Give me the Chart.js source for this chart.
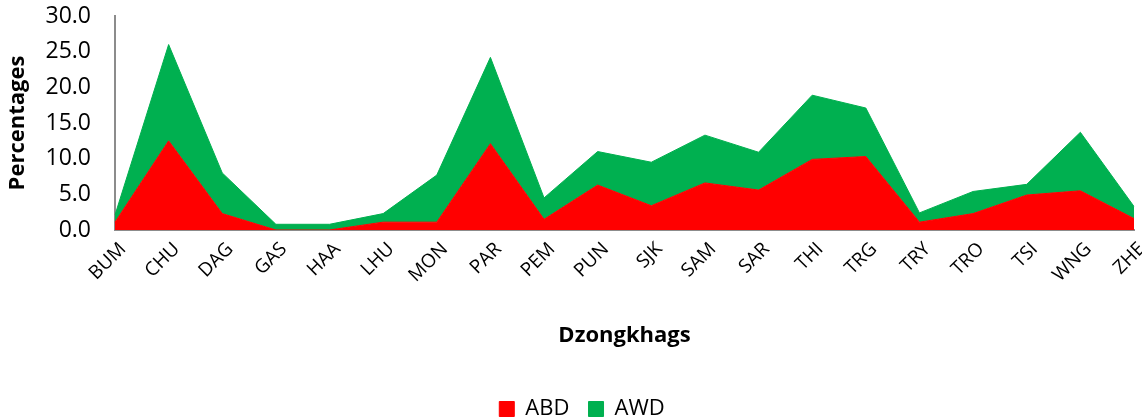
<!DOCTYPE html>
<html>
<head>
<meta charset="utf-8">
<script src="https://cdn.jsdelivr.net/npm/chart.js@4.4.0/dist/chart.umd.min.js"></script>
<style>
  html, body { margin: 0; padding: 0; background: #fff; }
  #wrap { width: 1142px; height: 420px; }
</style>
</head>
<body>
<div id="wrap"><canvas id="areaChart"></canvas></div>
<script>
// Dzongkhag codes
const dzongkhags = ['BUM', 'CHU', 'DAG', 'GAS', 'HAA', 'LHU', 'MON', 'PAR', 'PEM', 'PUN',
  'SJK', 'SAM', 'SAR', 'THI', 'TRG', 'TRY', 'TRO', 'TSI', 'WNG', 'ZHE'];

// Stacked series (percent)
const abdValues = [1.1, 12.5, 2.3, 0.0, 0.0, 1.1, 1.1, 12.1, 1.5, 6.3,
  3.4, 6.6, 5.6, 9.9, 10.3, 1.1, 2.3, 4.9, 5.5, 1.6];
const awdValues = [1.0, 13.5, 5.7, 0.8, 0.8, 1.2, 6.6, 12.1, 3.0, 4.7,
  6.1, 6.7, 5.3, 9.0, 6.8, 1.3, 3.1, 1.5, 8.2, 1.7];

const yTicks = [0, 5, 10, 15, 20, 25, 30];

const fontFamily = "'Open Sans', sans-serif";

// nudge the legend a bit right, like the original
const legendShift = {
  id: 'legendShift',
  afterLayout(chart) {
    chart.legend.left += 15;
    chart.legend.right += 15;
  }
};

const ctx = document.getElementById('areaChart');
new Chart(ctx, {
  type: 'line',
  data: {
    labels: dzongkhags,
    datasets: [
      {
        label: 'ABD',
        data: abdValues,
        borderColor: '#FF0000',
        backgroundColor: '#FF0000',
        borderWidth: 1,
        pointRadius: 0,
        tension: 0,
        fill: 'origin'
      },
      {
        label: 'AWD',
        data: awdValues,
        borderColor: '#00B050',
        backgroundColor: '#00B050',
        borderWidth: 1,
        pointRadius: 0,
        tension: 0,
        fill: '-1'
      }
    ]
  },
  plugins: [legendShift],
  options: {
    responsive: true,
    maintainAspectRatio: false,
    animation: false,
    layout: {
      padding: { top: 16, right: 8, left: 0, bottom: -10 }
    },
    scales: {
      x: {
        offset: false,
        grid: { display: false, drawTicks: false },
        border: { display: true, color: '#8c8c8c', width: 2 },
        ticks: {
          color: '#000',
          font: { family: fontFamily, size: 19 },
          maxRotation: 45,
          minRotation: 45,
          autoSkip: false,
          padding: 8,
          labelOffset: 8
        },
        title: {
          display: true,
          text: 'Dzongkhags',
          color: '#000',
          font: { family: fontFamily, size: 22, weight: 'bold' },
          padding: { top: 0, bottom: 47 }
        },
        afterFit: function (scale) {
          scale.height = 166;
          scale.paddingLeft = 0;
          scale.paddingRight = 0;
        }
      },
      y: {
        stacked: true,
        min: 0,
        max: 30,
        grid: { display: false, drawTicks: false },
        border: { display: true, color: '#8c8c8c', width: 2 },
        afterBuildTicks: function (scale) {
          scale.ticks = yTicks.map(v => ({ value: v }));
        },
        ticks: {
          color: '#000',
          font: { family: fontFamily, size: 23 },
          padding: 24,
          callback: v => Number(v).toFixed(1)
        },
        title: {
          display: true,
          text: 'Percentages',
          color: '#000',
          font: { family: fontFamily, size: 22, weight: 'bold' },
          padding: { top: 5, bottom: 0 }
        },
        afterFit: function (scale) {
          scale.width = 115;
          scale.paddingTop = 0;
          scale.paddingBottom = 0;
        }
      }
    },
    plugins: {
      legend: {
        position: 'bottom',
        labels: {
          color: '#000',
          font: { family: fontFamily, size: 22 },
          boxWidth: 15,
          boxHeight: 15,
          padding: 2,
          generateLabels: function (chart) {
            const items = Chart.defaults.plugins.legend.labels.generateLabels(chart);
            // extra gap after every item except the last
            return items.map((it, i) => {
              if (i < items.length - 1) it.text = it.text + '   ';
              return it;
            });
          }
        }
      },
      tooltip: { enabled: false }
    }
  }
});
</script>
</body>
</html>
